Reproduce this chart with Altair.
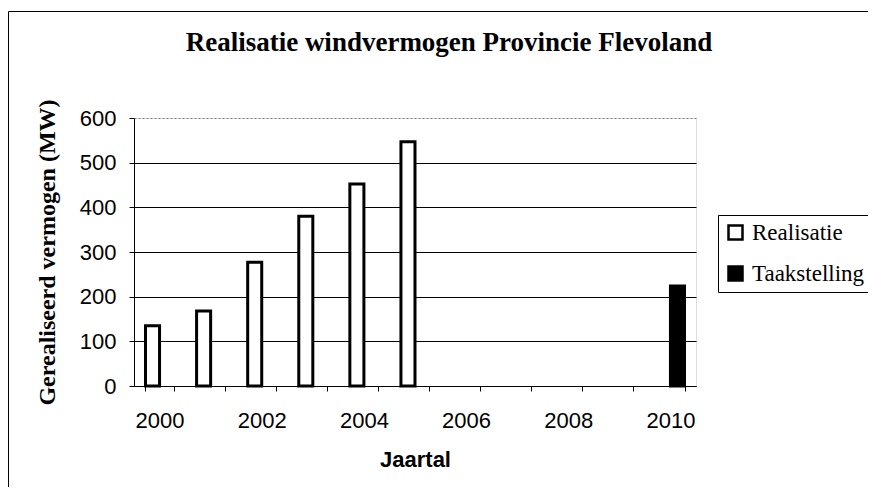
import altair as alt
import pandas as pd

years = ["2000", "2001", "2002", "2003", "2004", "2005", "2006", "2007", "2008", "2009", "2010"]
series = ["Realisatie", "Taakstelling"]
realisatie_years = ["2000", "2001", "2002", "2003", "2004", "2005"]
realisatie_values = [135, 168, 277, 380, 452, 547]
taak_years = ["2010"]
taak_values = [224]

rows = [{"jaar": j, "serie": "Realisatie", "mw": v} for j, v in zip(realisatie_years, realisatie_values)]
rows += [{"jaar": j, "serie": "Taakstelling", "mw": v} for j, v in zip(taak_years, taak_values)]
df = pd.DataFrame(rows)

SANS = "Liberation Sans"
SERIF = "Liberation Serif"

bars = alt.Chart(df).mark_bar(stroke="black", strokeWidth=3).encode(
    x=alt.X(
        "jaar:O",
        scale=alt.Scale(domain=years, paddingInner=0.45, paddingOuter=0.225),
        axis=alt.Axis(
            title="Jaartal",
            titleFont=SANS, titleFontSize=22, titleFontWeight="bold", titleColor="black",
            titlePadding=18,
            labelFont=SANS, labelFontSize=22, labelColor="black", labelAngle=0,
            labelPadding=19,
            labelExpr="parseInt(datum.value) % 2 == 0 ? datum.value : ''",
            tickBand="extent", tickSize=5, tickColor="black", tickWidth=1,
            domainColor="black", domainWidth=1, grid=False,
        ),
    ),
    xOffset=alt.XOffset("serie:N", scale=alt.Scale(domain=series, paddingInner=0, paddingOuter=0)),
    y=alt.Y(
        "mw:Q",
        scale=alt.Scale(domain=[0, 600], nice=False),
        axis=alt.Axis(
            title="Gerealiseerd vermogen (MW)",
            titleFont=SERIF, titleFontSize=24, titleFontWeight="bold", titleColor="black",
            titlePadding=20,
            values=[0, 100, 200, 300, 400, 500, 600],
            labelFont=SANS, labelFontSize=22, labelColor="black", labelPadding=13,
            tickSize=5, tickColor="black", tickWidth=1,
            domainColor="black", domainWidth=1,
            grid=True,
            gridColor={"condition": {"test": "datum.value >= 600", "value": "#888888"}, "value": "black"},
            gridDash={"condition": {"test": "datum.value >= 600", "value": [2, 2]}, "value": []},
            gridWidth=1,
        ),
    ),
    fill=alt.Fill(
        "serie:N",
        scale=alt.Scale(domain=series, range=["white", "black"]),
        legend=alt.Legend(
            title=None, orient="none", legendX=584, legendY=97,
            labelFont=SERIF, labelFontSize=23, labelColor="black",
            symbolType="square", symbolSize=196, symbolStrokeColor="black", symbolStrokeWidth=2.5,
            strokeColor="black", padding=6, rowPadding=16, labelOffset=5,
        ),
    ),
)

frame = alt.Chart(pd.DataFrame({"f": [0]})).mark_rect(
    fill="transparent", stroke="black", strokeWidth=1
).encode(
    x=alt.value(-125.5), x2=alt.value(900), y=alt.value(-106.5), y2=alt.value(600)
)

chart = alt.layer(frame, bars).properties(
    width=562,
    height=268,
    title=alt.TitleParams(
        "Realisatie windvermogen Provincie Flevoland",
        font=SERIF, fontSize=27, fontWeight="bold", color="black",
        anchor="middle", dx=34, offset=-67, baseline="alphabetic",
    ),
    autosize=alt.AutoSizeParams(type="none"),
    padding={"left": 126, "top": 110, "right": 172, "bottom": 101},
).configure_view(
    stroke="#888888", strokeDash=[2, 2], strokeWidth=1
).configure(background="white")

chart.save("out.html", embed_options={"renderer": "svg", "actions": False})
